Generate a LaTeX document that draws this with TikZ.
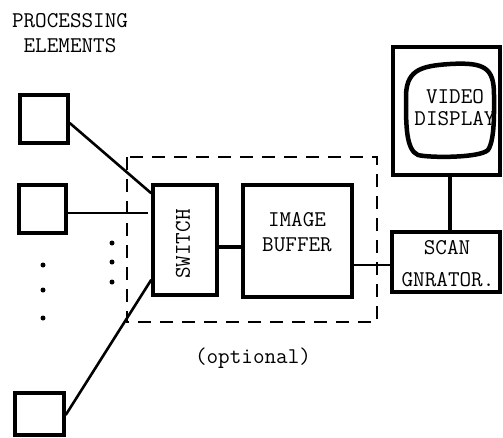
\documentclass[tikz,border=0pt]{standalone}
\usepackage{fontspec}
\usetikzlibrary{calc}
\begin{document}
\begin{tikzpicture}[x=1pt,y=-1pt,
  box/.style={draw,line width=3.4pt,inner sep=0pt,anchor=center},
  lbl/.style={font=\ttfamily\fontsize{22.5}{26}\selectfont,inner sep=0pt,anchor=center},
  wire/.style={line width=2.6pt},
  dotmark/.style={fill,circle,inner sep=0pt,minimum size=5pt}]
\useasboundingbox (0,0) rectangle (503,437);
% dashed optional box
\draw[line width=1.6pt,dash pattern=on 13pt off 9pt] (127,157) rectangle (377,322);
% processing elements
\node[box,minimum width=48pt,minimum height=48pt] (pe1) at (44,119) {};
\node[box,minimum width=47pt,minimum height=48pt] (pe2) at (42.5,209) {};
\node[box,minimum width=49pt,minimum height=42pt] (pe3) at (39.5,414) {};
% main blocks
\node[box,minimum width=64pt,minimum height=110pt] (sw) at (185,240) {};
\node[box,minimum width=109pt,minimum height=112pt] (buf) at (297.5,241) {};
\node[box,minimum width=108pt,minimum height=60pt] (scan) at (446,262) {};
\node[box,minimum width=107pt,minimum height=128pt] (tv) at (446.5,111) {};
% screen outline
\draw[line width=4.5pt,line join=round]
  (406,100) .. controls (405,70) and (420,66) .. (450,64)
  .. controls (485,62) and (494,68) .. (494,95)
  .. controls (494,110) and (495,140) .. (488,150)
  .. controls (480,158) and (430,158) .. (418,155)
  .. controls (406,150) and (406,125) .. cycle;
% texts
\node[lbl] (t1) at (70,21) {PROCESSING};
\node[lbl] (t2) at (70,46) {ELEMENTS};
\node[lbl,rotate=90] (tsw) at (183,244) {SWITCH};
\node[lbl] (tb1) at (297,220) {IMAGE};
\node[lbl] (tb2) at (297,245) {BUFFER};
\node[lbl] (ts1) at (447,248) {SCAN};
\node[lbl] (ts2) at (448,280) {GNRATOR.};
\node[lbl] (tv1) at (455,97) {VIDEO};
\node[lbl] (tv2) at (455,119) {DISPLAY};
\node[lbl] (opt) at (253,358) {(optional)};
% connection points on switch
\coordinate (sw1) at ($(sw.north west)+(0,10)$);
\coordinate (sw2) at (148,213);
\coordinate (sw3) at ($(sw.south west)+(0,-17)$);
% wires
\draw[wire] (pe1.east |- 0,123) -- (sw1);
\draw[wire] (pe2.east |- 0,213) -- (sw2);
\draw[wire] (pe3.east |- 0,415) -- (sw3);
\draw[wire,line width=3.2pt] (sw.east |- 0,247) -- (buf.west |- 0,247);
\draw[wire] (buf.east |- 0,265) -- (scan.west |- 0,265);
\draw[wire,line width=3.2pt] (tv.south -| 450,0) -- (scan.north -| 450,0);
% dots
\node[dotmark] (d1) at (43,265) {};
\node[dotmark] (d2) at (43,290) {};
\node[dotmark] (d3) at (43,318) {};
\node[dotmark] (d4) at (112,243) {};
\node[dotmark] (d5) at (112,262) {};
\node[dotmark] (d6) at (112,282) {};
\end{tikzpicture}
\end{document}
